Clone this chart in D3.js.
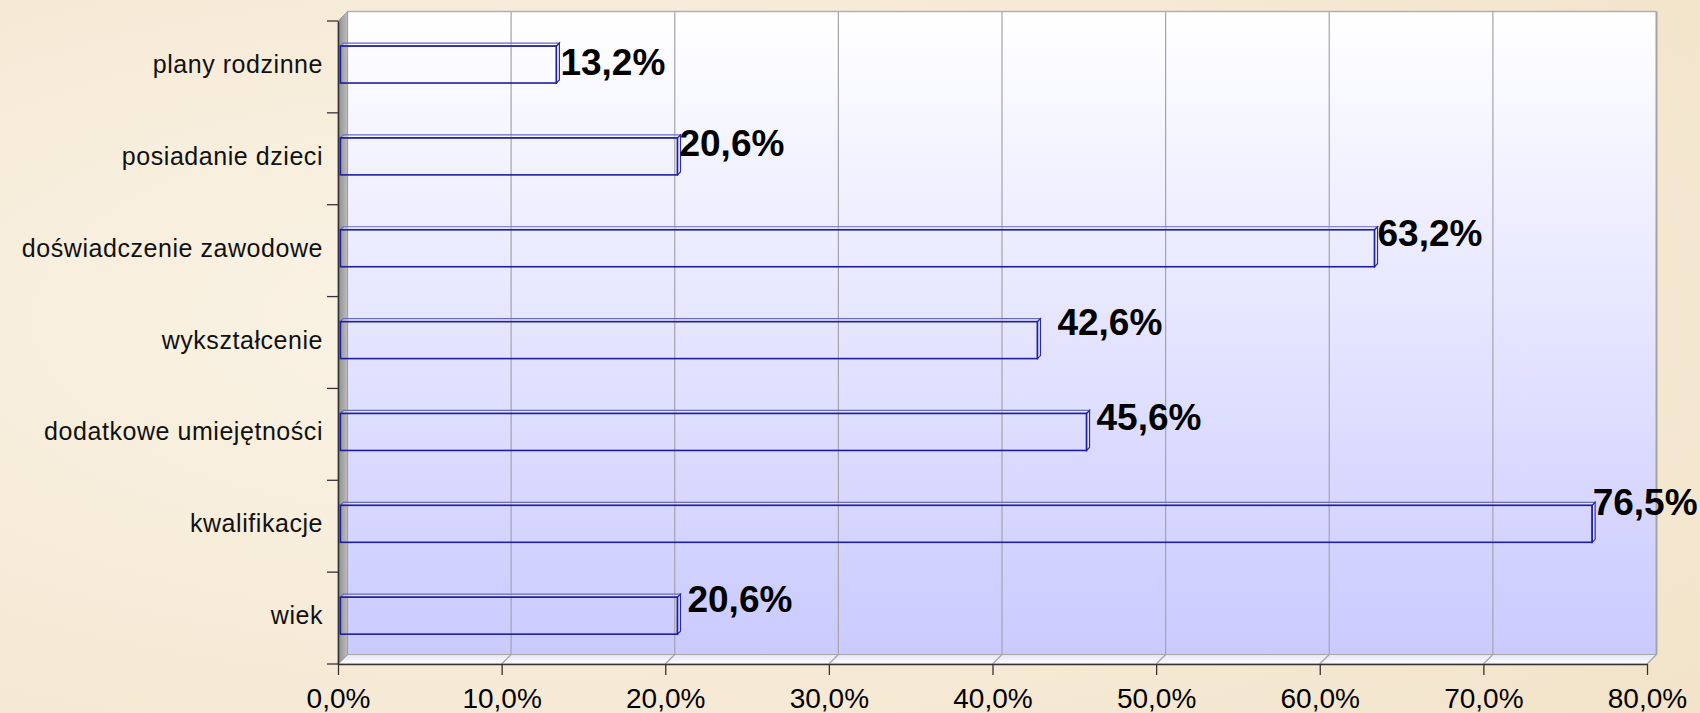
<!DOCTYPE html>
<html>
<head>
<meta charset="utf-8">
<script src="https://cdn.jsdelivr.net/npm/d3@7"></script>
<style>
html,body{margin:0;padding:0;width:1700px;height:713px;overflow:hidden;background:#f5e9d4;}
svg{display:block;font-family:"Liberation Sans",Arial,sans-serif;}
</style>
</head>
<body>
<svg id="chart" width="1700" height="713"></svg>
<script>
// ---- data ----
const categories = ["plany rodzinne","posiadanie dzieci","doświadczenie zawodowe","wykształcenie","dodatkowe umiejętności","kwalifikacje","wiek"];
const values = [13.2, 20.6, 63.2, 42.6, 45.6, 76.5, 20.6];
const valueLabels = ["13,2%","20,6%","63,2%","42,6%","45,6%","76,5%","20,6%"];
const xTickValues = [0, 10, 20, 30, 40, 50, 60, 70, 80];
const xTickLabels = ["0,0%","10,0%","20,0%","30,0%","40,0%","50,0%","60,0%","70,0%","80,0%"];

// label nudges (px) relative to default placement
const labelNudge = [[-2, 9], [-4, -2], [-3, -4], [14, -6.5], [4, -4], [-5.5, -11], [4, -5]];

// ---- layout ----
const svg = d3.select("#chart");
const W = 1700, H = 713;
const front = {left: 338, right: 1647, top: 21, bottom: 664};
const depth = {dx: 9.5, dy: -9.5};

const x = d3.scaleLinear().domain([0, 80]).range([front.left, front.right]);
const y = d3.scaleBand().domain(categories).range([front.top, front.bottom]).paddingInner(0).paddingOuter(0);

const defs = svg.append("defs");
// background parchment
const bg = defs.append("radialGradient").attr("id", "bgGrad").attr("cx", "0.3").attr("cy", "0.45").attr("r", "0.9");
bg.append("stop").attr("offset", "0%").attr("stop-color", "#faf3e5");
bg.append("stop").attr("offset", "60%").attr("stop-color", "#f6ead6");
bg.append("stop").attr("offset", "100%").attr("stop-color", "#f2e3c9");
svg.append("rect").attr("width", W).attr("height", H).attr("fill", "url(#bgGrad)");

// back wall gradient
const wallG = defs.append("linearGradient").attr("id", "wallGrad").attr("x1", 0).attr("y1", 0).attr("x2", 0).attr("y2", 1);
wallG.append("stop").attr("offset", "0%").attr("stop-color", "#ffffff");
wallG.append("stop").attr("offset", "100%").attr("stop-color", "#cacaff");

const floorG = defs.append("linearGradient").attr("id", "floorGrad").attr("x1", 0).attr("y1", 0).attr("x2", 0).attr("y2", 1);
floorG.append("stop").attr("offset", "0%").attr("stop-color", "#e4e4fb");
floorG.append("stop").attr("offset", "100%").attr("stop-color", "#ffffff");

const sideG = defs.append("linearGradient").attr("id", "sideGrad").attr("x1", 0).attr("y1", 0).attr("x2", 1).attr("y2", 0);
sideG.append("stop").attr("offset", "0%").attr("stop-color", "#8e8e8e");
sideG.append("stop").attr("offset", "100%").attr("stop-color", "#bdbdbd");

const bx = v => x(v) + depth.dx;          // back-plane x
const backTop = front.top + depth.dy, backBottom = front.bottom + depth.dy;

// back wall
svg.append("rect")
  .attr("x", bx(0)).attr("y", backTop)
  .attr("width", bx(80) - bx(0)).attr("height", backBottom - backTop)
  .attr("fill", "url(#wallGrad)");

// floor
svg.append("path")
  .attr("d", `M${bx(0)},${backBottom}L${bx(80)},${backBottom}L${x(80)},${front.bottom}L${x(0)},${front.bottom}Z`)
  .attr("fill", "url(#floorGrad)").attr("stroke", "#a8a8a8").attr("stroke-width", 1);

// gridlines on back wall + floor diagonals
const grid = svg.append("g");
xTickValues.forEach(v => {
  grid.append("line").attr("x1", bx(v)).attr("x2", bx(v)).attr("y1", backTop).attr("y2", backBottom)
    .attr("stroke", "#a4a4a8").attr("stroke-width", v === 80 ? 2 : 1.2);
  grid.append("line").attr("x1", bx(v)).attr("x2", x(v)).attr("y1", backBottom).attr("y2", front.bottom)
    .attr("stroke", "#a4a4a8").attr("stroke-width", 1.2);
});
// top edge of back wall
svg.append("line").attr("x1", bx(0)).attr("x2", bx(80)).attr("y1", backTop).attr("y2", backTop)
  .attr("stroke", "#b0b0b0").attr("stroke-width", 1.5);

// left side wall
svg.append("path")
  .attr("d", `M${x(0)},${front.top}L${bx(0)},${backTop}L${bx(0)},${backBottom}L${x(0)},${front.bottom}Z`)
  .attr("fill", "url(#sideGrad)").attr("stroke", "#9a9a9a").attr("stroke-width", 0.8);

// bars
const barH = 37;
const bf = 2.4;   // bar front-plane offset
const bd = 3;     // bar depth
const bars = svg.append("g");
categories.forEach((c, i) => {
  const v = values[i];
  const x0 = x(0) + bf, x1 = x(v) + bf;
  const cy = y(c) + y.bandwidth() / 2 - bf;
  const y0 = cy - barH / 2, y1 = cy + barH / 2;
  // top face
  bars.append("path")
    .attr("d", `M${x0},${y0}L${x0 + bd},${y0 - bd}L${x1 + bd},${y0 - bd}L${x1},${y0}Z`)
    .attr("fill", "rgba(255,255,255,0.35)").attr("stroke", "#6a6ac0").attr("stroke-width", 1.2);
  // right face
  bars.append("path")
    .attr("d", `M${x1},${y0}L${x1 + bd},${y0 - bd}L${x1 + bd},${y1 - bd}L${x1},${y1}Z`)
    .attr("fill", "rgba(255,255,255,0.35)").attr("stroke", "#2a2aa6").attr("stroke-width", 1.2);
  // front face
  bars.append("rect")
    .attr("x", x0).attr("y", y0).attr("width", x1 - x0).attr("height", barH)
    .attr("fill", "none").attr("stroke", "#1e1e9e").attr("stroke-width", 1.6);
});

// x axis
const xAxis = d3.axisBottom(x).tickValues(xTickValues).tickSize(11).tickSizeOuter(0)
  .tickFormat((d, i) => xTickLabels[i]);
const gx = svg.append("g").attr("transform", `translate(0,${front.bottom})`).call(xAxis);
gx.select(".domain").attr("stroke", "#333").attr("stroke-width", 1.5);
gx.selectAll(".tick line").attr("stroke", "#333").attr("stroke-width", 1.3);
gx.selectAll(".tick text").attr("font-size", 28).attr("fill", "#000").attr("y", 44).attr("dy", 0)
  .attr("font-family", "'Liberation Sans', Arial, sans-serif");

// y axis (category labels)
const yAxis = d3.axisLeft(y).tickSize(0).tickPadding(15);
const gy = svg.append("g").attr("transform", `translate(${front.left},0)`).call(yAxis);
gy.select(".domain").attr("stroke", "#333").attr("stroke-width", 1.5);
gy.selectAll(".tick text").attr("font-size", 25).attr("fill", "#111").attr("dy", "0.24em")
  .attr("letter-spacing", "0.55px")
  .attr("font-family", "'Liberation Sans', Arial, sans-serif");

// category boundary ticks
const bounds = categories.map(c => y(c)).concat([front.bottom]);
svg.append("g").selectAll("line").data(bounds).join("line")
  .attr("x1", front.left - 11).attr("x2", front.left).attr("y1", d => d).attr("y2", d => d)
  .attr("stroke", "#333").attr("stroke-width", 1.3);

// value labels
svg.append("g").selectAll("text").data(categories).join("text")
  .attr("x", (c, i) => x(values[i]) + bf + bd + 3 + labelNudge[i][0])
  .attr("y", (c, i) => y(c) + y.bandwidth() / 2 - 14 + labelNudge[i][1])
  .attr("dy", "0.36em")
  .attr("font-size", 37).attr("font-weight", "bold").attr("fill", "#000")
  .text((c, i) => valueLabels[i]);
</script>
</body>
</html>
